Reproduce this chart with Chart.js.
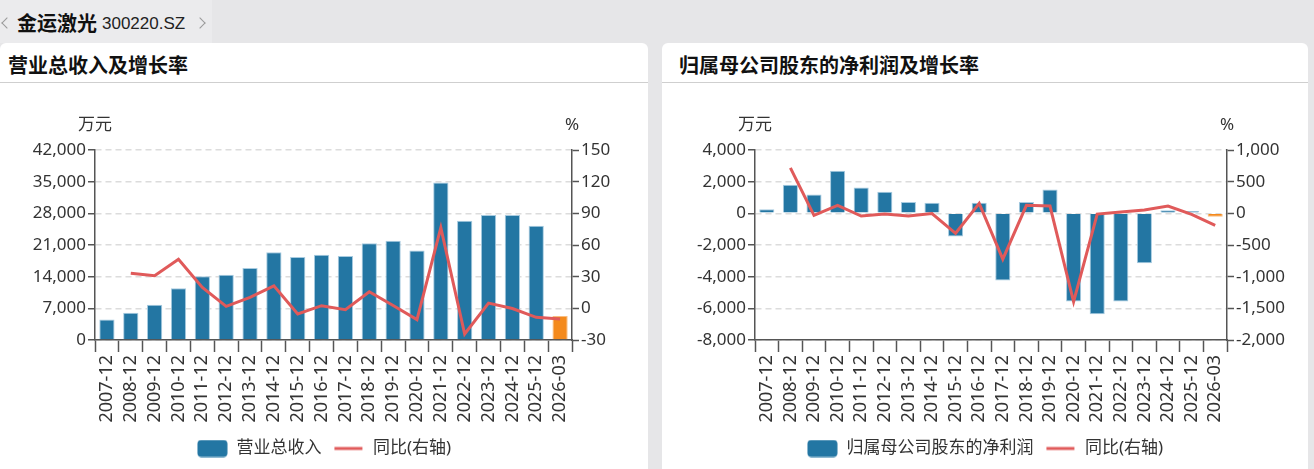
<!DOCTYPE html>
<html lang="zh-CN">
<head>
<meta charset="utf-8">
<title>金运激光 300220.SZ</title>
<script src="https://cdn.jsdelivr.net/npm/chart.js@4.4.1/dist/chart.umd.min.js"></script>
<style>
  html, body { margin: 0; padding: 0; }
  body {
    width: 1314px; height: 469px; overflow: hidden; position: relative;
    background: #e6e6e8;
    font-family: 'Noto Sans', 'Noto Sans CJK SC', sans-serif;
  }
  .nav { position: absolute; left: 0; top: 0; width: 212px; height: 43px; background: #ebebed; }
  .nav .name { position: absolute; left: 17px; top: 11px; font: bold 20px/24px 'Noto Sans CJK SC', sans-serif; color: #111; }
  .nav .code { position: absolute; left: 102px; top: 12px; font: 17px/24px 'Liberation Sans', Arial, sans-serif; color: #222; }
  .nav .chev { position: absolute; top: 19px; width: 7px; height: 7px; border-left: 1.5px solid #9a9a9a; border-bottom: 1.5px solid #9a9a9a; }
  .nav .prev { left: 3px; transform: rotate(45deg); }
  .nav .next { left: 196px; transform: rotate(-135deg); }
  .panel { position: absolute; top: 43px; height: 440px; background: #fff; border-radius: 6px; }
  .panel .title {
    position: absolute; top: 10px; line-height: 24px;
    font: bold 20px/24px 'Noto Sans CJK SC', sans-serif; color: #111;
  }
  .panel .rule { position: absolute; left: 0; right: 0; top: 39px; height: 1px; background: #cfcfcf; }
  .panel canvas { position: absolute; left: 0; top: 47px; }
</style>
</head>
<body>
<div class="nav">
  <span class="chev prev"></span>
  <span class="name">金运激光</span>
  <span class="code">300220.SZ</span>
  <span class="chev next"></span>
</div>

<div class="panel" style="left:0; width:648px;">
  <div class="title" style="left:8px">营业总收入及增长率</div>
  <div class="rule"></div>
  <canvas id="revenue" width="648" height="379"></canvas>
</div>

<div class="panel" style="left:662px; width:646px;">
  <div class="title" style="left:17px">归属母公司股东的净利润及增长率</div>
  <div class="rule"></div>
  <canvas id="profit" width="646" height="379"></canvas>
</div>

<script>
const periods = ['2007-12', '2008-12', '2009-12', '2010-12', '2011-12', '2012-12', '2013-12',
  '2014-12', '2015-12', '2016-12', '2017-12', '2018-12', '2019-12', '2020-12', '2021-12',
  '2022-12', '2023-12', '2024-12', '2025-12', '2026-03'];

// 营业总收入 (万元) and 同比 (%)
const revenue = [4540, 6020, 7780, 11460, 14100, 14400, 15940, 19390, 18360, 18870,
  18580, 21380, 21960, 19760, 34820, 26370, 27620, 27620, 25260, 5290];
const revenueYoy = [null, 33.3, 30.8, 46.5, 19.8, 1.9, 10.4, 21.3, -5.4, 2.5,
  -1.3, 15.7, 2.7, -10.7, 76.5, -24.3, 5.0, -0.2, -8.5, -10.1];

// 归属母公司股东的净利润 (万元) and 同比 (%)
const profit = [252, 1806, 1196, 2686, 1637, 1364, 713, 672, -1469, 672,
  -4239, 713, 1511, -5561, -6380, -5561, -3148, 189, 147, -210];
const profitYoy = [null, 719, -31, 126, -42, -11, -42, -3, -315, 157,
  -724, 126, 115, -1396, -11, 21, 52, 115, -16, -189];

// axis ranges / tick steps
const revenueAxis = [0, 42000, 7000];
const revenueYoyAxis = [-30, 150, 30];
const profitAxis = [-8000, 4000, 2000];
const profitYoyAxis = [-2000, 1000, 500];

const BLUE = '#2376a3';
const BLUE_EDGE = '#a7cbe0';
const ORANGE = '#f48a1c';
const ORANGE_EDGE = '#f9bd80';
const RED = '#e05a5a';
const AXIS = '#555';
const TEXT = '#333';

Chart.defaults.font.family = "'Noto Sans', 'Noto Sans CJK SC', sans-serif";
Chart.defaults.color = TEXT;

const fmt = v => v.toLocaleString('en-US');

// small legend swatches: rounded box for bars, short stroke for the line
function swatch(kind) {
  const c = document.createElement('canvas');
  c.width = 31; c.height = 18;
  const g = c.getContext('2d');
  if (kind === 'bar') {
    g.fillStyle = BLUE;
    g.beginPath();
    g.roundRect(0.5, 0.5, 30, 17, 4);
    g.fill();
  } else {
    g.strokeStyle = RED;
    g.lineWidth = 3;
    g.beginPath();
    g.moveTo(1, 9);
    g.lineTo(29, 9);
    g.stroke();
  }
  return c;
}
const barSwatch = swatch('bar');
const lineSwatch = swatch('line');

// "万元" / "%" written above the two y axes
const unitLabels = {
  id: 'unitLabels',
  afterDraw(chart) {
    const { ctx, chartArea, scales } = chart;
    ctx.save();
    ctx.font = "17px 'Noto Sans', 'Noto Sans CJK SC', sans-serif";
    ctx.fillStyle = TEXT;
    ctx.textAlign = 'center';
    ctx.textBaseline = 'middle';
    ctx.fillText('万元', scales.y.right, chartArea.top - 25);
    ctx.fillText('%', scales.y1.left, chartArea.top - 25);
    ctx.restore();
  }
};

function makeChart(id, barLabel, bars, yoy, axis, yoyAxis, leftW, rightW) {
  const last = bars.length - 1;
  const ctx = document.getElementById(id).getContext('2d');
  return new Chart(ctx, {
    type: 'bar',
    data: {
      labels: periods,
      datasets: [{
        type: 'bar',
        label: barLabel,
        data: bars,
        yAxisID: 'y',
        order: 1,
        backgroundColor: bars.map((v, i) => i === last ? ORANGE : BLUE),
        borderColor: bars.map((v, i) => i === last ? ORANGE_EDGE : BLUE_EDGE),
        borderWidth: 1,
        barPercentage: 0.64,
        categoryPercentage: 1
      }, {
        type: 'line',
        label: '同比(右轴)',
        data: yoy,
        yAxisID: 'y1',
        order: 0,
        borderColor: RED,
        backgroundColor: RED,
        borderWidth: 3,
        pointRadius: 0,
        pointHoverRadius: 0,
        tension: 0
      }]
    },
    options: {
      responsive: false,
      animation: false,
      layout: { padding: { top: 60, bottom: 2, left: 0, right: 0 } },
      scales: {
        x: {
          grid: { drawOnChartArea: false, tickLength: 12, tickColor: AXIS, tickWidth: 1.5 },
          border: { color: AXIS, width: 1.5 },
          ticks: { color: TEXT, font: { size: 18 }, autoSkip: false, minRotation: 90, maxRotation: 90, padding: 3 },
          afterFit: s => { s.height = 88; }
        },
        y: {
          position: 'left',
          min: axis[0], max: axis[1],
          ticks: { stepSize: axis[2], callback: fmt, color: TEXT, font: { size: 17 }, padding: 2 },
          grid: { color: '#dcdcdc', lineWidth: 1.5, tickColor: AXIS, tickLength: 7, tickWidth: 1.5 },
          border: { color: AXIS, width: 1.5, dash: [6, 4] },
          afterFit: s => { s.width = leftW; }
        },
        y1: {
          position: 'right',
          min: yoyAxis[0], max: yoyAxis[1],
          ticks: { stepSize: yoyAxis[2], callback: fmt, color: TEXT, font: { size: 17 }, padding: 2 },
          grid: { drawOnChartArea: false, tickColor: AXIS, tickLength: 7, tickWidth: 1.5 },
          border: { color: AXIS, width: 1.5 },
          afterFit: s => { s.width = rightW; }
        }
      },
      plugins: {
        tooltip: { enabled: false },
        legend: {
          position: 'bottom',
          labels: {
            usePointStyle: true,
            pointStyleWidth: 31,
            boxHeight: 17,
            padding: 12,
            color: TEXT,
            font: { size: 17 },
            sort: (a, b) => a.datasetIndex - b.datasetIndex,
            generateLabels(chart) {
              const items = Chart.defaults.plugins.legend.labels.generateLabels(chart);
              items.forEach(it => {
                it.pointStyle = it.datasetIndex === 0 ? barSwatch : lineSwatch;
              });
              return items;
            }
          }
        }
      }
    },
    plugins: [unitLabels]
  });
}

makeChart('revenue', '营业总收入', revenue, revenueYoy, revenueAxis, revenueYoyAxis, 95, 76);
makeChart('profit', '归属母公司股东的净利润', profit, profitYoy, profitAxis, profitYoyAxis, 93, 81);
</script>
</body>
</html>
